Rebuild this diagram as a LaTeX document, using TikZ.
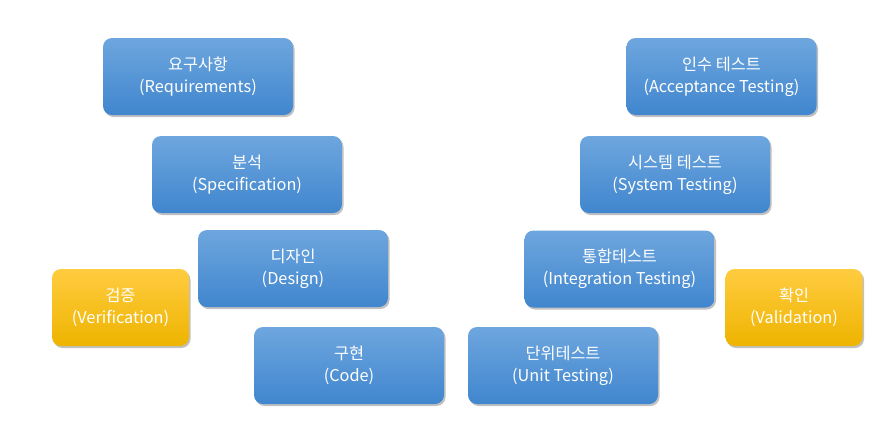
\documentclass[tikz,border=0pt]{standalone}
\usepackage{fontspec}
\setmainfont{Noto Sans CJK KR}
\usepackage{tikz}
\usetikzlibrary{shadows}

\definecolor{bluetop}{RGB}{110,166,222}
\definecolor{bluebot}{RGB}{64,134,206}
\definecolor{goldtop}{RGB}{255,204,64}
\definecolor{goldbot}{RGB}{238,180,0}

\begin{document}
\begin{tikzpicture}[x=1pt, y=-1pt,
    phase/.style={rectangle, rounded corners=9pt, minimum width=190pt, minimum height=77pt,
        top color=bluetop, bottom color=bluebot, draw=none, text=white, align=center,
        font=\fontsize{16.3}{22}\selectfont, inner sep=0pt,
        drop shadow={shadow xshift=1.5pt, shadow yshift=-2pt, opacity=0.35, fill=black!70}},
    check/.style={phase, minimum width=137pt, top color=goldtop, bottom color=goldbot}]
                \useasboundingbox (0,0) rectangle (895,445);
                \node[phase] (req) at (198,76.5) {요구사항\\(Requirements)};
                \node[phase] (spec) at (247,174.5) {분석\\(Specification)};
                \node[phase] (design) at (293,268.5) {디자인\\(Design)};
                \node[phase] (code) at (349,365.5) {구현\\(Code)};
                \node[check] (verif) at (120.5,307.5) {검증\\(Verification)};
                \node[phase] (accept) at (721.5,76.5) {인수 테스트\\(Acceptance Testing)};
                \node[phase] (system) at (675,174.5) {시스템 테스트\\(System Testing)};
                \node[phase] (integ) at (619.5,269) {통합테스트\\(Integration Testing)};
                \node[phase] (unit) at (563,365.5) {단위테스트\\(Unit Testing)};
                \node[check] (valid) at (794,307.5) {확인\\(Validation)};
            \end{tikzpicture}
\end{document}
